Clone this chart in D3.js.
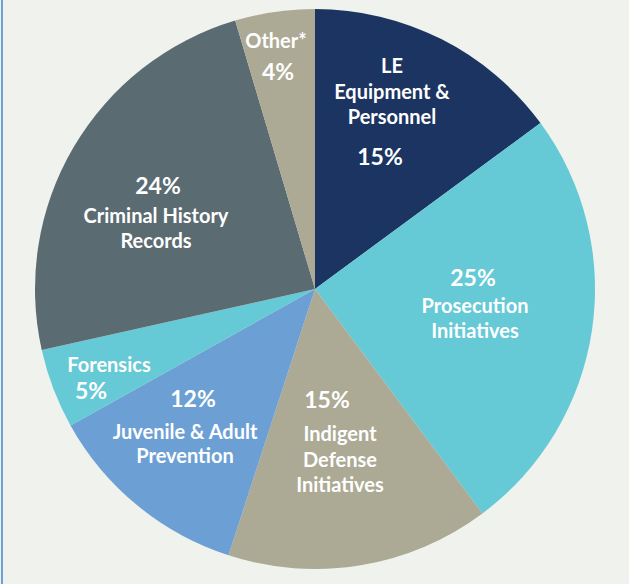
<!DOCTYPE html>
<html>
<head>
<meta charset="utf-8">
<script src="https://cdn.jsdelivr.net/npm/d3@7"></script>
<style>
  html, body { margin: 0; padding: 0; background: #f0f2ed; }
  svg { display: block; }
  .lbl { font-family: Lato, "Open Sans", sans-serif; font-weight: 700; fill: #ffffff; }
</style>
</head>
<body>
<script>
// ---- data ----
const categories = ["LE Equipment & Personnel", "Prosecution Initiatives", "Indigent Defense Initiatives",
  "Juvenile & Adult Prevention", "Forensics", "Criminal History Records", "Other*"];
const values = [14.9, 24.9, 15.2, 11.9, 4.6, 23.9, 4.6];
const pctLabels = ["15%", "25%", "15%", "12%", "5%", "24%", "4%"];
const labelLines = [["LE", "Equipment &", "Personnel"], ["Prosecution", "Initiatives"], ["Indigent", "Defense", "Initiatives"],
  ["Juvenile & Adult", "Prevention"], ["Forensics"], ["Criminal History", "Records"], ["Other*"]];

// ---- styles / layout ----
const colors = ["#1b3461", "#65c9d6", "#aca995", "#6ca0d5", "#65c9d6", "#5b6b72", "#aca995"];
// label anchors relative to pie center: [labelX, labelFirstBaseline, lineGap, pctX, pctBaseline]
const labelLayout = [
  [77, -216, 25.5, 65, -124],
  [160, 24, 25, 158, -3],
  [25, 152, 25.5, 12, 119],
  [-130, 150, 24, -122, 118],
  [-206, 83, 24, -224, 110],
  [-159, -66, 25, -157, -95],
  [-39, -241, 24, -37, -209]
];

const W = 629, H = 584;
const cx = 315, cy = 289, R = 280;

const svg = d3.select("body").append("svg").attr("width", W).attr("height", H);
svg.append("rect").attr("width", W).attr("height", H).attr("fill", "#f0f2ed");
svg.append("rect").attr("x", 1).attr("y", 0).attr("width", 2).attr("height", H).attr("fill", "#6d9fd9");

const g = svg.append("g").attr("transform", `translate(${cx},${cy})`);

const pie = d3.pie().sort(null).value(d => d.value);
const arc = d3.arc().innerRadius(0).outerRadius(R);
const data = categories.map((c, i) => ({ name: c, value: values[i], i }));
const arcs = pie(data);

g.selectAll("path.slice").data(arcs).join("path")
  .attr("class", "slice")
  .attr("d", arc)
  .attr("fill", d => colors[d.data.i]);

const labels = g.selectAll("g.label").data(arcs).join("g").attr("class", "label");
labels.each(function(d) {
  const i = d.data.i;
  const L = labelLayout[i];
  const sel = d3.select(this);
  labelLines[i].forEach((t, k) => {
    sel.append("text").attr("class", "lbl")
      .attr("x", L[0]).attr("y", L[1] + k * L[2])
      .attr("text-anchor", "middle")
      .attr("font-size", 20)
      .text(t);
  });
  sel.append("text").attr("class", "lbl")
    .attr("x", L[3]).attr("y", L[4])
    .attr("text-anchor", "middle")
    .attr("font-size", 23)
    .text(pctLabels[i]);
});
</script>
</body>
</html>
